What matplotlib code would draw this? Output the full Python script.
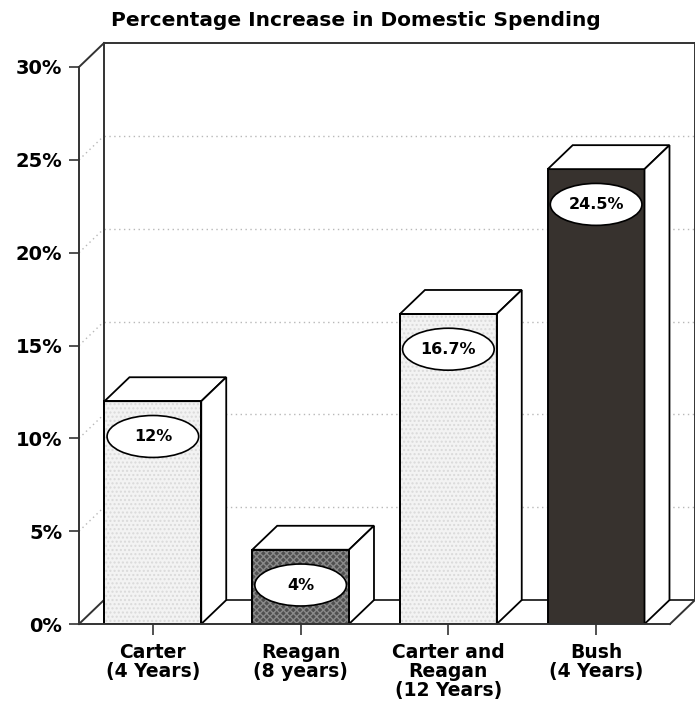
import matplotlib
matplotlib.use("Agg")
import matplotlib.pyplot as plt
from matplotlib.patches import Polygon, Ellipse

plt.rcParams["font.family"] = ["DejaVu Sans"]
plt.rcParams["font.weight"] = "bold"

categories = ["Carter\n(4 Years)", "Reagan\n(8 years)", "Carter and\nReagan\n(12 Years)", "Bush\n(4 Years)"]
values = [12, 4, 16.7, 24.5]
face_colors = ["#f3f3f3", "#4f4f4f", "#f3f3f3", "#37322e"]
hatches = ["....", "xxxxx", "....", None]
hatch_colors = ["#dadada", "#8a8a8a", "#dadada", None]
yticks = [0, 5, 10, 15, 20, 25, 30]

# oblique depth of the box, in data units
DX = 0.169
DY = 1.29
BAR_W = 0.655

fig = plt.figure(figsize=(6.95, 7.13), dpi=100)
ax = fig.add_axes([79 / 695, 89 / 713, 591 / 695, 557 / 713])
ax.set_xlim(-0.5, 3.5)
ax.set_ylim(0, 30)

line_kw = dict(color="#333333", lw=1.4, clip_on=False, zorder=2)
x_left, x_right = -0.5, 3.5

# back wall, floor and side wall outline
ax.plot([x_left + DX, x_left + DX], [DY, 30 + DY], **line_kw)
ax.plot([x_left + DX, x_right + DX], [30 + DY, 30 + DY], **line_kw)
ax.plot([x_right + DX, x_right + DX], [DY, 30 + DY], **line_kw)
ax.plot([x_left + DX, x_right + DX], [DY, DY], **line_kw)
ax.plot([x_left, x_left + DX], [0, DY], **line_kw)
ax.plot([x_left, x_left + DX], [30, 30 + DY], **line_kw)
ax.plot([x_right, x_right + DX], [0, DY], **line_kw)

# dotted grid on the back wall and side wall
grid_kw = dict(color="#b8b8b8", lw=1.0, linestyle=(0, (1, 2.5)), clip_on=False, zorder=1)
for t in yticks[1:-1]:
    ax.plot([x_left + DX, x_right + DX], [t + DY, t + DY], **grid_kw)
    ax.plot([x_left, x_left + DX], [t, t + DY], **grid_kw)

xs = list(range(len(values)))
ax.bar(xs, values, width=BAR_W, color=face_colors, edgecolor="black", linewidth=1.4, zorder=3)

for x, v, hatch, hcol in zip(xs, values, hatches, hatch_colors):
    x0 = x - BAR_W / 2
    x1 = x + BAR_W / 2
    if hatch:
        ax.bar(x, v, width=BAR_W, fill=False, hatch=hatch, edgecolor=hcol, linewidth=0, zorder=3.5)
        ax.bar(x, v, width=BAR_W, fill=False, edgecolor="black", linewidth=1.4, zorder=3.6)
    top = Polygon([(x0, v), (x0 + DX, v + DY), (x1 + DX, v + DY), (x1, v)],
                  closed=True, facecolor="white", edgecolor="black", lw=1.3, zorder=3, clip_on=False)
    side = Polygon([(x1, 0), (x1, v), (x1 + DX, v + DY), (x1 + DX, DY)],
                   closed=True, facecolor="white", edgecolor="black", lw=1.3, zorder=3, clip_on=False)
    ax.add_patch(top)
    ax.add_patch(side)

    # value badge near the top of each bar
    cy = v - 1.9
    ax.add_patch(Ellipse((x, cy), width=0.62, height=2.26, facecolor="white",
                         edgecolor="black", lw=1.2, zorder=5))
    ax.text(x, cy, f"{v:g}%", ha="center", va="center", fontsize=11.5,
            fontweight="bold", color="black", zorder=6)

for side_name in ["top", "right"]:
    ax.spines[side_name].set_visible(False)
for side_name in ["left", "bottom"]:
    ax.spines[side_name].set_color("#333333")
    ax.spines[side_name].set_linewidth(1.4)
    ax.spines[side_name].set_zorder(4)

ax.set_yticks(yticks)
ax.set_yticklabels([f"{t}%" for t in yticks])
ax.set_xticks(xs)
ax.set_xticklabels(categories, linespacing=1.0)
ax.tick_params(axis="y", direction="out", length=7, width=1.2, pad=5, labelsize=14,
               color="#333333", labelcolor="black")
ax.tick_params(axis="x", direction="out", length=8, width=1.2, pad=6, labelsize=13.5,
               color="#333333", labelcolor="black")
ax.patch.set_visible(False)

fig.text(356 / 695, 1 - 20 / 713, "Percentage Increase in Domestic Spending",
         ha="center", va="center", fontsize=14.5, fontweight="bold", color="black")

fig.savefig("out.png", dpi=100)
